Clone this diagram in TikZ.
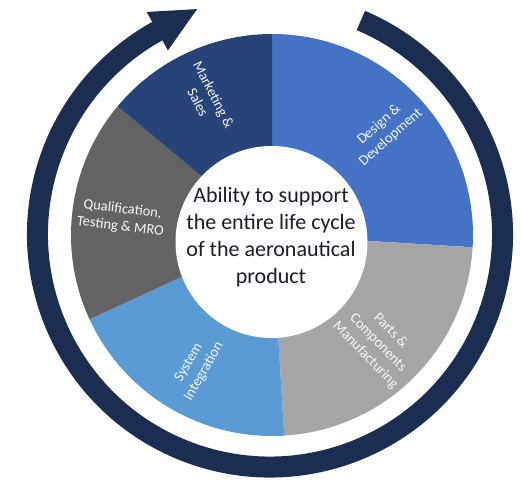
\documentclass[tikz,border=0pt]{standalone}
\usepackage{fontspec}
\setmainfont{Carlito}
\usetikzlibrary{arrows.meta}
\definecolor{ringblue}{HTML}{1B2D50}
\definecolor{mktblue}{HTML}{264478}
\definecolor{devblue}{HTML}{4472C4}
\definecolor{partgray}{HTML}{A5A5A5}
\definecolor{sysblue}{HTML}{5B9BD5}
\definecolor{qualgray}{HTML}{636363}
\definecolor{hubtext}{HTML}{1C1C2A}
\begin{document}
\begin{tikzpicture}[x=1pt, y=1pt,
  seglabel/.style={font=\fontsize{14.5}{17.5}\selectfont, text=white!94!gray, align=center},
  cyclering/.style={line width=21pt, ringblue, -{Triangle[length=47pt, width=40pt]}}]
\useasboundingbox (-272,-245) rectangle (249,235);

% outer cycle arrow
\begin{scope}[shift={(-2,0.5)}]
\draw[cyclering] (67:232.5) arc[start angle=67, end angle=-241, radius=232.5] -- ++(29:47);
\end{scope}

% segments, clockwise from the top
\fill[devblue] (0,0) -- (90:201) arc[start angle=90, end angle=-3.5, radius=201] -- cycle;
\fill[partgray] (0,0) -- (-3.5:201) arc[start angle=-3.5, end angle=-86.5, radius=201] -- cycle;
\fill[sysblue] (0,0) -- (-86.5:201) arc[start angle=-86.5, end angle=-155.2, radius=201] -- cycle;
\fill[qualgray] (0,0) -- (-155.2:201) arc[start angle=-155.2, end angle=-219.8, radius=201] -- cycle;
\fill[mktblue] (0,0) -- (-219.8:201) arc[start angle=-219.8, end angle=-270, radius=201] -- cycle;

% hub
\fill[white] (-0.5,-7) circle[radius=96];
\node[font=\fontsize{22}{27}\selectfont, text=hubtext, align=center] (hub) at (-1,-2)
  {Ability to support\\the entire life cycle\\of the aeronautical\\product};

% segment labels
\node[seglabel, rotate=42] (dev) at (113,104) {Design \&\\Development};
\node[seglabel, rotate=-46] (parts) at (106,-108) {Parts \&\\Components\\Manufacturing};
\node[seglabel, rotate=60] (sys) at (-75.5,-132) {System\\Integration};
\node[seglabel, rotate=-7] (qual) at (-150.5,17) {Qualification,\\Testing \& MRO};
\node[seglabel, rotate=-63] (mkt) at (-66,136.5) {Marketing \&\\Sales};
\end{tikzpicture}
\end{document}
